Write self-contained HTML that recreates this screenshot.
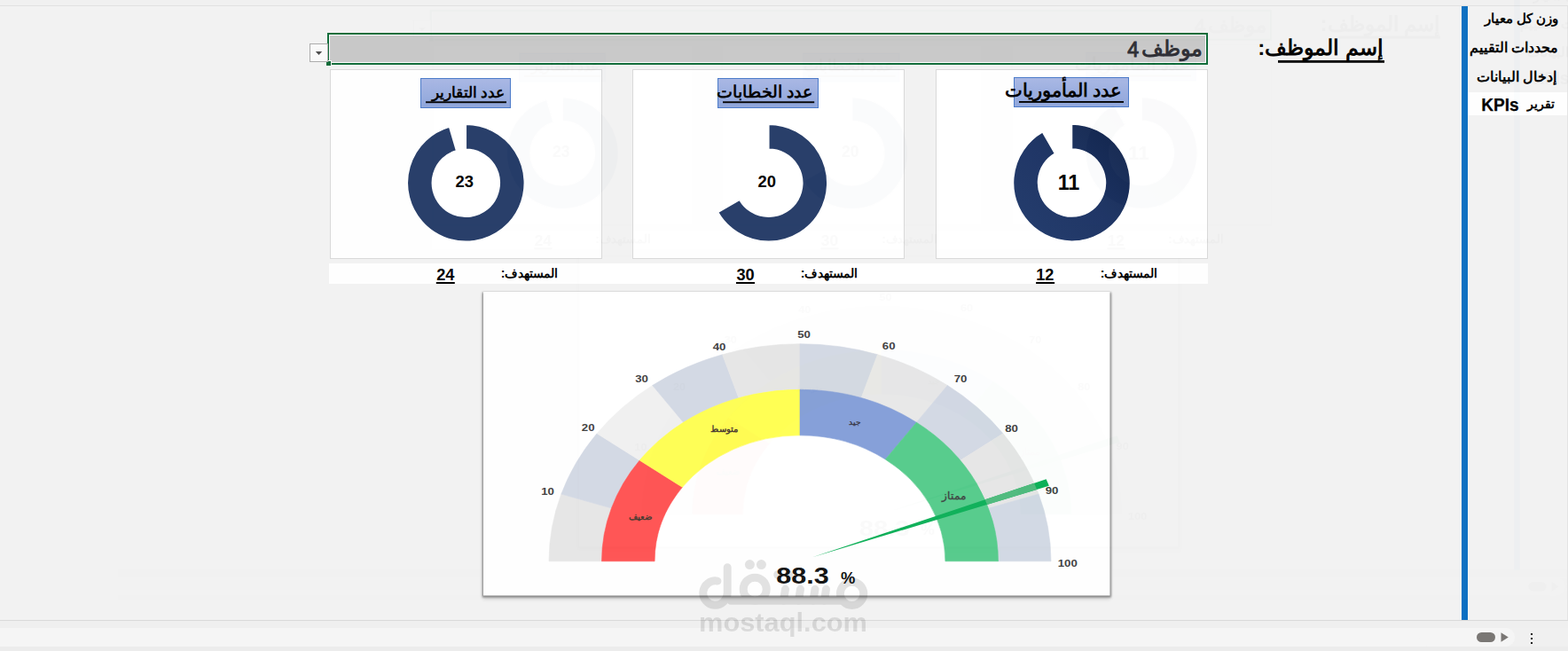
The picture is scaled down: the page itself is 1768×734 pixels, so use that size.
<!DOCTYPE html>
<html lang="ar"><head><meta charset="utf-8"><title>KPIs</title>
<style>html,body{margin:0;padding:0;background:#f2f2f2;}body{width:1768px;height:734px;overflow:hidden;font-family:"Liberation Sans",sans-serif;}</style>
</head><body>
<svg width="1768" height="734" viewBox="0 0 1768 734" style="display:block">
<defs>
<linearGradient id="lb" x1="0" y1="0" x2="0" y2="1"><stop offset="0" stop-color="#a9b7e4"/><stop offset="1" stop-color="#8da5db"/></linearGradient>
<linearGradient id="d3" x1="0" y1="1" x2="1" y2="0"><stop offset="0" stop-color="#213b6d"/><stop offset="0.5" stop-color="#1c3363"/><stop offset="1" stop-color="#12244a"/></linearGradient>
<filter id="sh" x="-5%" y="-5%" width="110%" height="110%"><feGaussianBlur stdDeviation="0.9"/></filter>
<filter id="sh2" x="-5%" y="-5%" width="110%" height="112%"><feGaussianBlur stdDeviation="2.2"/></filter>
</defs>
<g id="m">
<rect width="1768" height="734" fill="#f2f2f2"/>
<rect width="1768" height="6" fill="#f0f0f0"/>
<rect y="6" width="1768" height="1" fill="#e1e1e1"/>
<rect x="1767" y="7" width="1" height="692" fill="#e4e4e4"/>
<rect y="699" width="1768" height="1" fill="#d9d9d9"/>
<rect y="700" width="1768" height="8" fill="#efefef"/>
<rect y="708" width="1768" height="21" fill="#f5f5f5"/>
<rect y="729" width="1768" height="5" fill="#ececec"/>
<rect x="1690" y="708" width="78" height="21" fill="#f0f0f0"/>
<rect x="1600" y="708" width="108" height="21" rx="10" fill="#f5f5f5"/>
<rect x="1665" y="713" width="21" height="11" rx="5.5" fill="#7a7774"/>
<path d="M1692.5 713.2L1700.8 718.5L1692.5 723.8Z" fill="#7a7774"/>
<rect x="1726" y="714" width="2" height="2" fill="#111"/>
<rect x="1726" y="719" width="2" height="2" fill="#111"/>
<rect x="1726" y="724" width="2" height="2" fill="#111"/>
<rect x="1648" y="7" width="7" height="692" fill="#0a6fc2"/>
<rect x="1655" y="104" width="112" height="26" fill="#ffffff"/>
<text x="1757.4" y="25.6" font-size="15.2" font-weight="bold" fill="#000" direction="rtl" font-family="Liberation Sans, sans-serif">وزن كل معيار</text>
<text x="1757.0" y="58.8" font-size="16.0" font-weight="bold" fill="#000" direction="rtl" font-family="Liberation Sans, sans-serif">محددات التقييم</text>
<text x="1755.3" y="92.0" font-size="15.9" font-weight="bold" fill="#000" direction="rtl" font-family="Liberation Sans, sans-serif">إدخال البيانات</text>
<text x="1753.2" y="121.5" font-size="14.4" font-weight="bold" fill="#000" direction="rtl" font-family="Liberation Sans, sans-serif">تقرير</text>
<text x="1670.3" y="125" font-family="Liberation Sans, sans-serif" font-weight="bold" font-size="21.1" fill="#000" stroke="#000" stroke-width="0.25" textLength="42.4" lengthAdjust="spacingAndGlyphs">KPIs</text>
<text x="1560.0" y="61.5" font-size="24.1" font-weight="bold" fill="#000" direction="rtl" font-family="Liberation Sans, sans-serif">إسم الموظف:</text>
<rect x="1441" y="68" width="120" height="2.8" fill="#000"/>
<rect x="370" y="38" width="991" height="34" fill="#fff" stroke="#0f6b38" stroke-width="2"/>
<rect x="372" y="40" width="987" height="30" fill="#c8c8c8"/>
<rect x="367" y="68" width="7" height="7" fill="#f2f2f2"/>
<rect x="368" y="69" width="5" height="5" fill="#0f6b38"/>
<rect x="349.5" y="49.5" width="20" height="20" fill="#fafafa" stroke="#ababab"/>
<path d="M355.8 58L363.2 58L359.5 62Z" fill="#4a4a4a"/>
<text x="1355.5" y="62.5" font-size="24.2" font-weight="bold" fill="#2e2e34" direction="rtl" font-family="Liberation Sans, sans-serif">موظف</text>
<text x="1277.6" y="63.6" text-anchor="middle" font-family="Liberation Sans, sans-serif" font-size="23" fill="#2e2e34" stroke="#2e2e34" stroke-width="1.0">4</text>
<rect x="371" y="297" width="991" height="23" fill="#ffffff"/>
<rect x="372.5" y="78.5" width="306" height="213" fill="#fff" stroke="#d9d9d9"/>
<rect x="713.5" y="78.5" width="306" height="213" fill="#fff" stroke="#d9d9d9"/>
<rect x="1055.5" y="78.5" width="306" height="213" fill="#fff" stroke="#d9d9d9"/>
<rect x="474.5" y="88.5" width="101" height="33" fill="url(#lb)" stroke="#4a7ac9"/>
<rect x="809.5" y="88.5" width="113" height="33" fill="url(#lb)" stroke="#4a7ac9"/>
<rect x="1143.5" y="87.5" width="129" height="33" fill="url(#lb)" stroke="#4a7ac9"/>
<text x="569.5" y="109.5" font-size="17.2" font-weight="bold" fill="#000" direction="rtl" font-family="Liberation Sans, sans-serif">عدد التقارير</text>
<rect x="480" y="114.3" width="91" height="1.9" fill="#000"/>
<text x="916.0" y="109.5" font-size="18.5" font-weight="bold" fill="#000" direction="rtl" font-family="Liberation Sans, sans-serif">عدد الخطابات</text>
<rect x="815" y="114.3" width="103.2" height="1.9" fill="#000"/>
<text x="1265.4" y="108.5" font-size="20.5" font-weight="bold" fill="#000" direction="rtl" font-family="Liberation Sans, sans-serif">عدد المأموريات</text>
<rect x="1149" y="114.0" width="118" height="1.9" fill="#000"/>
<path fill="#253c68" stroke="#fff" stroke-width="1.5" d="M525.30 140.30A66.00 66.00 0 1 1 506.67 142.99L514.57 169.85A38.00 38.00 0 1 0 525.30 168.30Z"/>
<path fill="#253c68" stroke="#fff" stroke-width="1.5" d="M866.80 140.30A66.00 66.00 0 1 1 809.64 239.30L833.89 225.30A38.00 38.00 0 1 0 866.80 168.30Z"/>
<path fill="url(#d3)" stroke="#fff" stroke-width="1.5" d="M1208.50 140.10A66.00 66.00 0 1 1 1175.50 148.94L1189.50 173.19A38.00 38.00 0 1 0 1208.50 168.10Z"/>
<text x="523.8" y="211.1" text-anchor="middle" font-family="Liberation Sans, sans-serif" font-weight="bold" font-size="18.4" fill="#000">23</text>
<text x="864.8" y="211.1" text-anchor="middle" font-family="Liberation Sans, sans-serif" font-weight="bold" font-size="18.4" fill="#000">20</text>
<text x="1205" y="213.9" text-anchor="middle" font-family="Liberation Sans, sans-serif" font-weight="bold" font-size="23.4" fill="#000">11</text>
<text x="502.3" y="316" text-anchor="middle" font-family="Liberation Sans, sans-serif" font-weight="bold" font-size="18.2" fill="#000">24</text>
<rect x="491.8" y="318" width="21" height="2" fill="#000"/>
<text x="629.3" y="312.6" font-size="14.0" font-weight="bold" fill="#000" direction="rtl" font-family="Liberation Sans, sans-serif">المستهدف:</text>
<text x="840.5" y="316" text-anchor="middle" font-family="Liberation Sans, sans-serif" font-weight="bold" font-size="18.2" fill="#000">30</text>
<rect x="830.0" y="318" width="21" height="2" fill="#000"/>
<text x="967.3" y="312.6" font-size="14.0" font-weight="bold" fill="#000" direction="rtl" font-family="Liberation Sans, sans-serif">المستهدف:</text>
<text x="1168.3" y="316" font-family="Liberation Sans, sans-serif" font-weight="bold" font-size="18.1" fill="#000">12</text>
<rect x="1168.1" y="318" width="21" height="2" fill="#000"/>
<text x="1305.4" y="312.6" font-size="14.0" font-weight="bold" fill="#000" direction="rtl" font-family="Liberation Sans, sans-serif">المستهدف:</text>
<rect x="544.5" y="332" width="707.5" height="343.5" fill="#000" opacity="0.13" filter="url(#sh2)"/>
<rect x="543.9" y="329.6" width="708.9" height="343.9" fill="#7f7f7f" filter="url(#sh)"/>
<rect x="545" y="329" width="706.5" height="342.5" fill="#ffffff"/>
<path fill="#e6e6e6" stroke="#e6e6e6" stroke-width="0.6" d="M619.00 632.80A283.00 245.08 0 0 1 632.85 557.07L689.44 572.99A223.50 193.55 0 0 0 678.50 632.80Z"/>
<path fill="#d3d9e4" stroke="#d3d9e4" stroke-width="0.6" d="M632.85 557.07A283.00 245.08 0 0 1 673.05 488.75L721.18 519.03A223.50 193.55 0 0 0 689.44 572.99Z"/>
<path fill="#f0f0f0" stroke="#f0f0f0" stroke-width="0.6" d="M673.05 488.75A283.00 245.08 0 0 1 735.66 434.53L770.63 476.21A223.50 193.55 0 0 0 721.18 519.03Z"/>
<path fill="#d3d9e4" stroke="#d3d9e4" stroke-width="0.6" d="M735.66 434.53A283.00 245.08 0 0 1 814.55 399.72L832.93 448.72A223.50 193.55 0 0 0 770.63 476.21Z"/>
<path fill="#e6e6e6" stroke="#e6e6e6" stroke-width="0.6" d="M814.55 399.72A283.00 245.08 0 0 1 902.00 387.72L902.00 439.25A223.50 193.55 0 0 0 832.93 448.72Z"/>
<path fill="#d3d9e4" stroke="#d3d9e4" stroke-width="0.6" d="M902.00 387.72A283.00 245.08 0 0 1 989.45 399.72L971.07 448.72A223.50 193.55 0 0 0 902.00 439.25Z"/>
<path fill="#e8e8e8" stroke="#e8e8e8" stroke-width="0.6" d="M989.45 399.72A283.00 245.08 0 0 1 1068.34 434.53L1033.37 476.21A223.50 193.55 0 0 0 971.07 448.72Z"/>
<path fill="#d3d9e4" stroke="#d3d9e4" stroke-width="0.6" d="M1068.34 434.53A283.00 245.08 0 0 1 1130.95 488.75L1082.82 519.03A223.50 193.55 0 0 0 1033.37 476.21Z"/>
<path fill="#e6e6e6" stroke="#e6e6e6" stroke-width="0.6" d="M1130.95 488.75A283.00 245.08 0 0 1 1171.15 557.07L1114.56 572.99A223.50 193.55 0 0 0 1082.82 519.03Z"/>
<path fill="#d2d9e4" stroke="#d2d9e4" stroke-width="0.6" d="M1171.15 557.07A283.00 245.08 0 0 1 1185.00 632.80L1125.50 632.80A223.50 193.55 0 0 0 1114.56 572.99Z"/>
<path fill="#ff5353" stroke="#ff5353" stroke-width="0.6" d="M678.50 632.80A223.50 193.55 0 0 1 721.18 519.03L769.40 549.37A163.90 141.94 0 0 0 738.10 632.80Z"/>
<path fill="#ffff54" stroke="#ffff54" stroke-width="0.6" d="M721.18 519.03A223.50 193.55 0 0 1 902.00 439.25L902.00 490.86A163.90 141.94 0 0 0 769.40 549.37Z"/>
<path fill="#849fd9" stroke="#849fd9" stroke-width="0.6" d="M902.00 439.25A223.50 193.55 0 0 1 1033.37 476.21L998.34 517.97A163.90 141.94 0 0 0 902.00 490.86Z"/>
<path fill="#55cb8b" stroke="#55cb8b" stroke-width="0.6" d="M1033.37 476.21A223.50 193.55 0 0 1 1125.50 632.80L1065.90 632.80A163.90 141.94 0 0 0 998.34 517.97Z"/>
<path d="M916.08 628.32L1179.63 540.22L1182.85 547.82Z" fill="#0db058"/>
<path d="M1110.57 563.25L1166.10 544.73L1169.16 551.96L1112.99 568.96Z" fill="#4fba7d"/>
<text transform="translate(617.5 557.6) scale(1.15 1)" text-anchor="middle" font-family="Liberation Sans, sans-serif" font-weight="bold" font-size="11.5" fill="#404040">10</text>
<text transform="translate(663.2 486.4) scale(1.15 1)" text-anchor="middle" font-family="Liberation Sans, sans-serif" font-weight="bold" font-size="11.5" fill="#404040">20</text>
<text transform="translate(723.5 431) scale(1.15 1)" text-anchor="middle" font-family="Liberation Sans, sans-serif" font-weight="bold" font-size="11.5" fill="#404040">30</text>
<text transform="translate(811 395.2) scale(1.15 1)" text-anchor="middle" font-family="Liberation Sans, sans-serif" font-weight="bold" font-size="11.5" fill="#404040">40</text>
<text transform="translate(906.5 380.8) scale(1.15 1)" text-anchor="middle" font-family="Liberation Sans, sans-serif" font-weight="bold" font-size="11.5" fill="#404040">50</text>
<text transform="translate(1002.2 393.7) scale(1.15 1)" text-anchor="middle" font-family="Liberation Sans, sans-serif" font-weight="bold" font-size="11.5" fill="#404040">60</text>
<text transform="translate(1083.1 430.9) scale(1.15 1)" text-anchor="middle" font-family="Liberation Sans, sans-serif" font-weight="bold" font-size="11.5" fill="#404040">70</text>
<text transform="translate(1140.5 486.7) scale(1.15 1)" text-anchor="middle" font-family="Liberation Sans, sans-serif" font-weight="bold" font-size="11.5" fill="#404040">80</text>
<text transform="translate(1186 557.2) scale(1.15 1)" text-anchor="middle" font-family="Liberation Sans, sans-serif" font-weight="bold" font-size="11.5" fill="#404040">90</text>
<text transform="translate(1203.8 639.4) scale(1.15 1)" text-anchor="middle" font-family="Liberation Sans, sans-serif" font-weight="bold" font-size="11.5" fill="#404040">100</text>
<text x="734.8" y="585.8" font-size="10.3" font-weight="bold" fill="#4a3a30" direction="rtl" font-family="Liberation Sans, sans-serif">ضعيف</text>
<text x="832.4" y="487.3" font-size="9.8" font-weight="bold" fill="#4a3a30" direction="rtl" font-family="Liberation Sans, sans-serif">متوسط</text>
<text x="971.0" y="479.1" font-size="9.2" font-weight="bold" fill="#3a3a4a" direction="rtl" font-family="Liberation Sans, sans-serif">جيد</text>
<text x="1089.1" y="562.5" font-size="11.6" font-weight="bold" fill="#3f4a45" direction="rtl" font-family="Liberation Sans, sans-serif">ممتاز</text>
<text transform="translate(905 658) scale(1.22 1)" text-anchor="middle" font-family="Liberation Sans, sans-serif" font-weight="bold" font-size="25" fill="#111">88.3</text>
<text transform="translate(956.2 657.7) scale(1.05 1)" text-anchor="middle" font-family="Liberation Sans, sans-serif" font-weight="bold" font-size="17.5" fill="#111">%</text>
</g>
<use href="#m" transform="matrix(0.9556 0 0 0.954 132.3 -24.1)" opacity="0.016"/>
<g opacity="0.105" fill="none" stroke="#000" stroke-width="9" stroke-linecap="round" stroke-linejoin="round">
<path d="M820.2 639.8L820.2 668.6A13.7 13.7 0 1 1 808.9 655.1"/>
<path d="M824 677.2L950 677.2"/>
<circle cx="851.2" cy="664.2" r="13"/>
<path d="M883.5 677.2L885.5 664.3M900.5 677.2L902.5 664.3M917 677.2L919 664.3M929.5 677.2L931.5 664.3"/>
<circle cx="960.6" cy="669.3" r="13.2"/>
<g fill="#000" stroke="none"><circle cx="845.4" cy="636.6" r="5.5"/><circle cx="858.4" cy="636.6" r="5.5"/><circle cx="877" cy="648" r="4.8"/><circle cx="889.5" cy="648" r="4.8"/>
<text x="788" y="712" font-size="30" font-weight="bold" fill="#000" stroke="none" textLength="190" lengthAdjust="spacingAndGlyphs" font-family="Liberation Sans, sans-serif">mostaql.com</text></g>
</g>
</svg>
</body></html>
